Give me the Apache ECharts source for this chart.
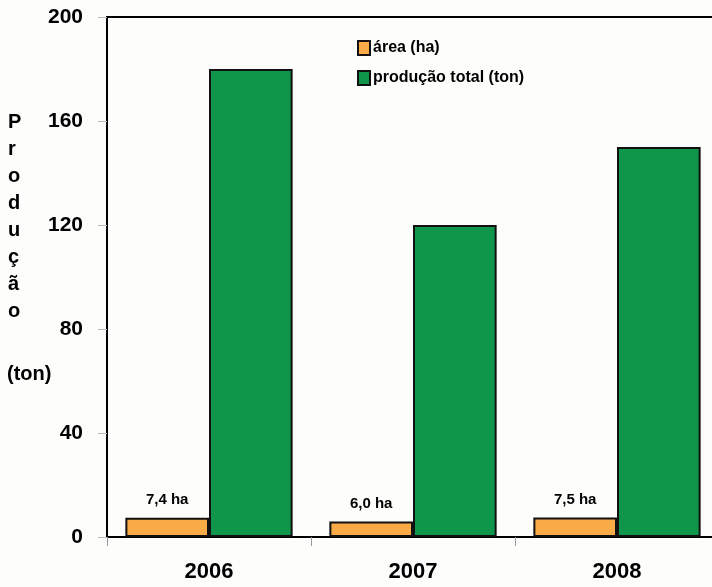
<!DOCTYPE html>
<html>
<head>
<meta charset="utf-8">
<script src="https://cdn.jsdelivr.net/npm/echarts@6/dist/echarts.min.js"></script>
<style>
html,body{margin:0;padding:0;background:#fdfdfb;}
#chart{width:712px;height:587px;}
</style>
</head>
<body>
<div id="chart"></div>
<script>
var anos = ['2006', '2007', '2008'];
var area = [7.4, 6.0, 7.5];
var areaLabels = ['7,4 ha', '6,0 ha', '7,5 ha'];
var producao = [180, 120, 150];

var myChart = echarts.init(document.getElementById('chart'));

var option = {
    backgroundColor: '#fdfdfb',
    textStyle: {fontFamily: 'Liberation Sans, Arial, sans-serif'},
    title: [{
        text: 'P\nr\no\nd\nu\nç\nã\no',
        left: 8,
        top: 109,
        padding: 0,
        textStyle: {fontSize: 20, fontWeight: 'bold', color: '#000', lineHeight: 27}
    }, {
        text: '(ton)',
        left: 7,
        top: 364,
        padding: 0,
        textStyle: {fontSize: 20, fontWeight: 'bold', color: '#000'}
    }],
    legend: {
        orient: 'vertical',
        left: 357,
        top: 40,
        padding: 0,
        icon: 'rect',
        itemWidth: 12,
        itemHeight: 14,
        itemGap: 14,
        textStyle: {fontSize: 16, fontWeight: 'bold', color: '#000', padding: [0, 0, 0, -2]},
        data: ['área (ha)', 'produção total (ton)']
    },
    grid: {
        left: 107,
        top: 17,
        bottom: 50,
        width: 612,
        outerBoundsMode: 'none',
        show: true,
        borderColor: '#000',
        borderWidth: 2
    },
    xAxis: {
        type: 'category',
        data: anos,
        axisLine: {lineStyle: {color: '#000', width: 2}},
        axisTick: {show: true, length: 9, lineStyle: {color: '#999'}},
        axisLabel: {fontSize: 22, fontWeight: 'bold', color: '#000', margin: 24}
    },
    yAxis: {
        type: 'value',
        min: 0,
        max: 200,
        interval: 40,
        splitLine: {show: false},
        axisLine: {show: true, lineStyle: {color: '#000', width: 2}},
        axisTick: {show: true, length: 9, lineStyle: {color: '#bbb'}},
        axisLabel: {fontSize: 21, fontWeight: 'bold', color: '#000', margin: 24}
    },
    series: [{
        name: 'área (ha)',
        type: 'bar',
        data: area,
        barGap: '0%',
        barCategoryGap: '18%',
        itemStyle: {color: '#faaa46', borderColor: '#111', borderWidth: 2},
        label: {
            show: true,
            position: 'top',
            distance: 10,
            fontSize: 15,
            fontWeight: 'bold',
            color: '#000',
            formatter: function(p){ return areaLabels[p.dataIndex]; }
        }
    }, {
        name: 'produção total (ton)',
        type: 'bar',
        data: producao,
        itemStyle: {color: '#10964a', borderColor: '#111', borderWidth: 2}
    }]
};
myChart.setOption(option, true);
</script>
</body>
</html>
